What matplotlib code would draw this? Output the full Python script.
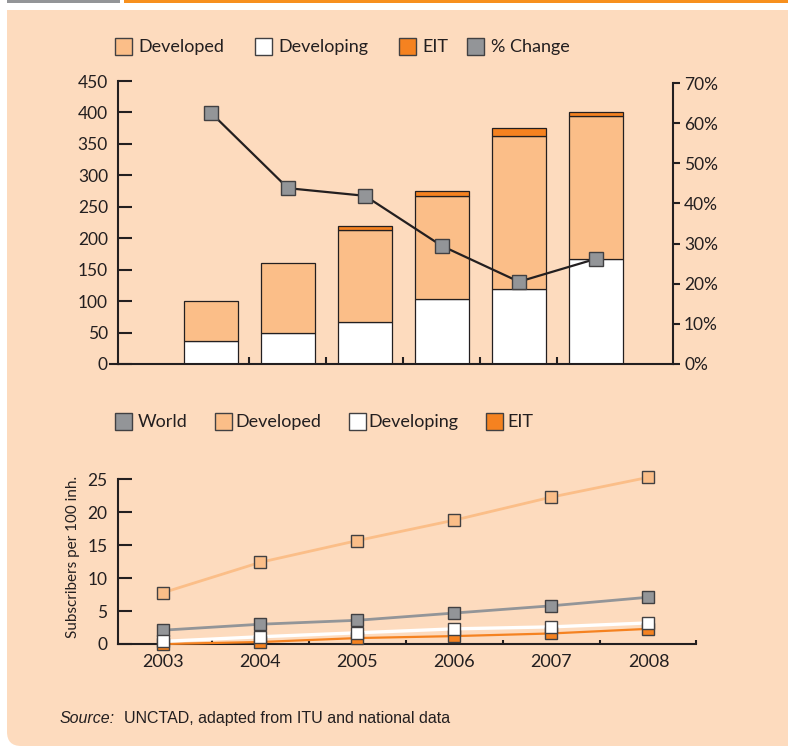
import matplotlib
matplotlib.use("Agg")
import matplotlib.pyplot as plt
import numpy as np
from matplotlib.patches import Rectangle, FancyBboxPatch
from matplotlib.lines import Line2D

plt.rcParams['font.family'] = ['Lato', 'DejaVu Sans']

W, H, DPI = 788, 748, 100

# ---- mobile broadband subscribers (millions), stacked by group ----
bar_years = [2003, 2004, 2005, 2006, 2007, 2008]
developing_mn = [37, 49, 67, 103, 120, 167]
developed_mn = [63, 111, 146, 164, 243, 228]
eit_mn = [0, 0, 7, 8, 12, 5]
pct_change = [62.6, 43.8, 41.9, 29.4, 20.5, 26.2]

# ---- penetration (subscribers per 100 inhabitants) ----
years = [2003, 2004, 2005, 2006, 2007, 2008]
world_pen = [2.1, 3.0, 3.6, 4.7, 5.8, 7.1]
developed_pen = [7.8, 12.4, 15.7, 18.8, 22.3, 25.3]
developing_pen = [0.4, 1.1, 1.7, 2.3, 2.6, 3.2]
eit_pen = [0.0, 0.3, 0.9, 1.2, 1.6, 2.3]

left_ticks = [0, 50, 100, 150, 200, 250, 300, 350, 400, 450]
pct_ticks = [0, 10, 20, 30, 40, 50, 60, 70]
pen_ticks = [0, 5, 10, 15, 20, 25]

PANEL = '#FDDBBE'
PEACH = '#FBBE88'
ORANGE = '#F58220'
GRAY = '#939598'
DARK = '#231F20'
EDGE = '#414042'
HEADER_ORANGE = '#F7901E'


def fx(px):
    return px / W


def fy(py):
    return 1 - py / H


fig = plt.figure(figsize=(W / DPI, H / DPI), dpi=DPI)
fig.patch.set_facecolor('white')

# header strips and shaded panel
fig.add_artist(Rectangle((fx(7), fy(3)), fx(120) - fx(7), 3 / H,
                         transform=fig.transFigure, fc=GRAY, ec='none', zorder=-10))
fig.add_artist(Rectangle((fx(124), fy(3)), 1, 3 / H,
                         transform=fig.transFigure, fc=HEADER_ORANGE, ec='none', zorder=-10))
fig.add_artist(FancyBboxPatch((fx(7), fy(746)), 1.2, 0.5,
                              boxstyle='round,pad=0,rounding_size=0.018',
                              transform=fig.transFigure, fc=PANEL, ec='none',
                              zorder=-11, mutation_aspect=W / H))
fig.add_artist(Rectangle((fx(7), fy(700)), 1.2, fy(10) - fy(700),
                         transform=fig.transFigure, fc=PANEL, ec='none', zorder=-11))

# ================= top chart =================
ax = fig.add_axes([fx(117.7), fy(364), fx(673) - fx(117.7), fy(81) - fy(364)])
ax.set_facecolor('none')
pos = np.arange(1, len(bar_years) + 1)
dev = np.array(developing_mn, float)
dvd = np.array(developed_mn, float)
eit = np.array(eit_mn, float)
bw = 0.70
ax.bar(pos, dev, width=bw, color='white', edgecolor=DARK, lw=0.9, zorder=2)
ax.bar(pos, dvd, bottom=dev, width=bw, color=PEACH, edgecolor=DARK, lw=0.9, zorder=2)
mask = eit > 0
ax.bar(pos[mask], eit[mask], bottom=(dev + dvd)[mask], width=bw, color=ORANGE,
       edgecolor=DARK, lw=0.9, zorder=2)

ax.set_xlim(-0.21, 7.0)
ax.set_ylim(0, 450)
ax.set_yticks(left_ticks)
ax.set_xticks([1.5, 2.5, 3.5, 4.5, 5.5])
ax.set_xticklabels([])
for s in ['top', 'right']:
    ax.spines[s].set_visible(False)
for s in ['left', 'bottom']:
    ax.spines[s].set_linewidth(1.5)
    ax.spines[s].set_color(DARK)
ax.tick_params(axis='y', direction='in', length=10, width=1.5, pad=7,
               labelsize=12.5, colors=DARK)
ax.tick_params(axis='x', direction='in', length=5, width=1.5, colors=DARK)
fig.add_artist(Line2D([fx(110), fx(118)], [fy(364), fy(364)], transform=fig.transFigure,
                      color=DARK, lw=1.5))

ax2 = ax.twinx()
ax2.set_ylim(0, 70.5)
ax2.set_yticks(pct_ticks)
ax2.set_yticklabels([f'{v}%' for v in pct_ticks])
for s in ['top', 'left', 'bottom']:
    ax2.spines[s].set_visible(False)
ax2.spines['right'].set_linewidth(1.5)
ax2.spines['right'].set_color(DARK)
ax2.spines['right'].set_bounds(0, 70)
ax2.tick_params(axis='y', direction='out', length=5, width=1.5, pad=3,
                labelsize=12.5, colors=DARK)
ax2.plot(pos, pct_change, color=DARK, lw=1.6, marker='s', ms=10,
         mfc=GRAY, mec=EDGE, mew=1.0, zorder=5, clip_on=False)


def legend_item(x, baseline, color, label, tx):
    size = 17
    fig.add_artist(Rectangle((fx(x), fy(baseline - 6 + size / 2)), size / W, size / H,
                             transform=fig.transFigure, fc=color, ec=EDGE, lw=1.0))
    fig.text(fx(tx), fy(baseline), label, fontsize=13, color=DARK,
             ha='left', va='baseline')


legend_item(114.5, 52, PEACH, 'Developed', 138)
legend_item(254.5, 52, 'white', 'Developing', 278)
legend_item(398.5, 52, ORANGE, 'EIT', 422)
legend_item(467, 52, GRAY, '% Change', 491)

# ================= bottom chart =================
ax3 = fig.add_axes([fx(117.7), fy(644), fx(696) - fx(117.7), fy(479.3) - fy(644)])
ax3.set_facecolor('none')
ax3.plot(years, developed_pen, color=PEACH, lw=2.0, zorder=3, clip_on=False)
ax3.plot(years, world_pen, color=GRAY, lw=2.0, zorder=3, clip_on=False)
ax3.plot(years, eit_pen, color=ORANGE, lw=1.6, zorder=3, clip_on=False)
ax3.plot(years, developing_pen, color='white', lw=2.4, zorder=3, clip_on=False)

mk = dict(marker='s', ms=8.6, mec=EDGE, mew=1.0, ls='none', clip_on=False)
ax3.plot(years, developed_pen, mfc=PEACH, zorder=4, **mk)
ax3.plot(years, eit_pen, mfc=ORANGE, zorder=4.1, **mk)
ax3.plot(years, world_pen, mfc=GRAY, zorder=4.2, **mk)
ax3.plot(years, developing_pen, mfc='white', zorder=4.3, **mk)

ax3.set_xlim(2002.53, 2008.49)
ax3.set_ylim(0, 25)
ax3.set_yticks(pen_ticks)
ax3.set_xticks(years)
ax3.set_xticklabels([str(y) for y in years])
ax3.set_xticks([2003.5, 2004.5, 2005.5, 2006.5, 2007.5, 2008.49], minor=True)
for s in ['top', 'right']:
    ax3.spines[s].set_visible(False)
for s in ['left', 'bottom']:
    ax3.spines[s].set_linewidth(1.5)
    ax3.spines[s].set_color(DARK)
ax3.tick_params(axis='y', direction='in', length=10, width=1.5, pad=7.5,
                labelsize=12.5, colors=DARK)
ax3.tick_params(axis='x', which='major', length=0, pad=7, labelsize=13, colors=DARK)
ax3.tick_params(axis='x', which='minor', direction='in', length=3, width=1.5, colors=DARK)

fig.text(fx(73), fy(557), 'Subscribers per 100 inh.', rotation=90, fontsize=11,
         color=DARK, ha='center', va='center')

legend_item(114.5, 427, GRAY, 'World', 138)
legend_item(214.5, 427, PEACH, 'Developed', 235)
legend_item(348.5, 427, 'white', 'Developing', 368)
legend_item(485.5, 427, ORANGE, 'EIT', 507)

fig.text(fx(60), fy(723), 'Source:', fontsize=11.5, style='italic', color=DARK,
         family='Liberation Sans', ha='left', va='baseline')
fig.text(fx(124.5), fy(723), 'UNCTAD, adapted from ITU and national data', fontsize=11.5,
         color=DARK, family='Liberation Sans', ha='left', va='baseline')

fig.savefig('out.png', dpi=DPI, facecolor=fig.get_facecolor())
